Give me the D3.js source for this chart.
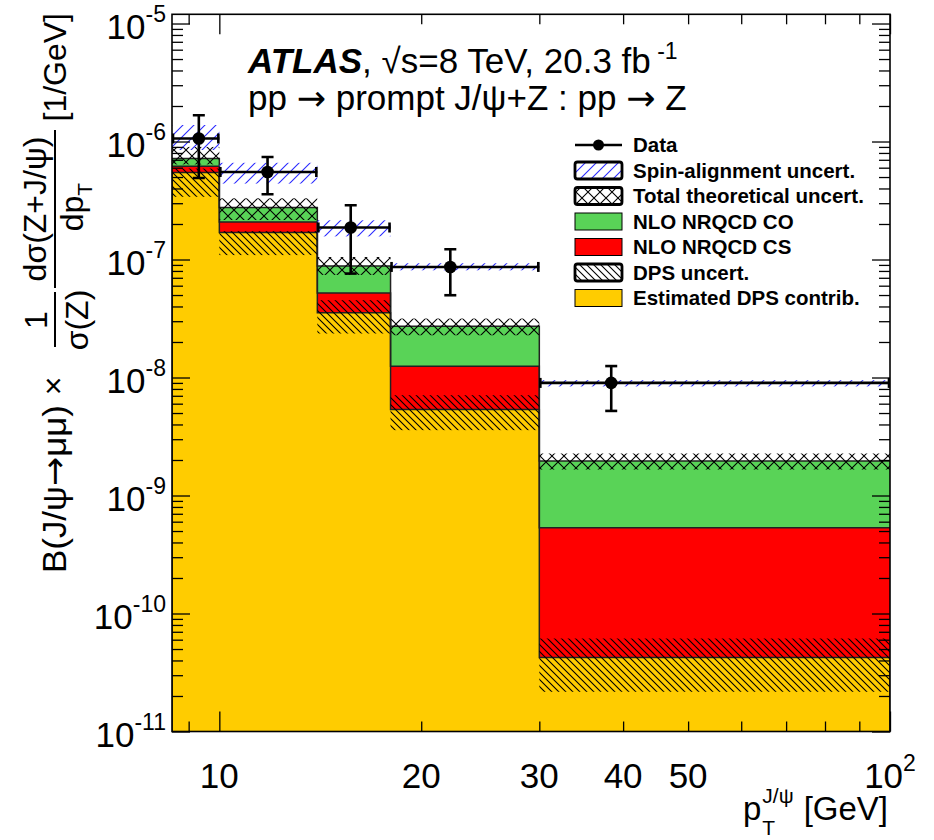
<!DOCTYPE html>
<html><head><meta charset="utf-8">
<script src="https://cdn.jsdelivr.net/npm/d3@7/dist/d3.min.js"></script>
<style>
body{margin:0;background:#fff}
text{font-family:"Liberation Sans",Arial,Helvetica,sans-serif;fill:#000}
.ar{font-family:"DejaVu Sans",sans-serif}
</style>
</head><body>
<svg id="chart" width="934" height="840"></svg>
<script>
// ---------------- data ----------------
const binEdges   = [8.5, 10, 14, 18, 30, 100];
const dpsContrib = [5.46e-7, 1.69e-7, 3.53e-8, 5.36e-9, 4.24e-11];
const csContrib  = [7.2e-8, 3.9e-8, 1.68e-8, 7.1e-9, 4.9e-10];
const coContrib  = [1.0e-7, 6.8e-8, 3.6e-8, 1.47e-8, 1.43e-9];
const dpsUncLow  = [3.4e-7, 1.09e-7, 2.36e-8, 3.58e-9, 2.17e-11];
const dpsUncHigh = [5.9e-7, 1.74e-7, 4.52e-8, 7.08e-9, 6.14e-11];
const theoryLow  = [6.4e-7, 2.16e-7, 7.4e-8, 2.28e-8, 1.66e-9];
const theoryHigh = [9.0e-7, 3.30e-7, 1.05e-7, 3.16e-8, 2.27e-9];
const spinLow    = [8.47e-7, 4.4e-7, 1.57e-7, 8.1e-8, 8.4e-9];
const spinHigh   = [1.38e-6, 6.6e-7, 2.15e-7, 9.3e-8, 9.5e-9];
const dataX      = [9.32, 11.8, 15.7, 22.1, 38.4];
const dataY      = [1.06e-6, 5.52e-7, 1.87e-7, 8.65e-8, 9.0e-9];
const dataHigh   = [1.67e-6, 7.4e-7, 2.88e-7, 1.22e-7, 1.25e-8];
const dataLowV   = [4.9e-7, 3.57e-7, 7.6e-8, 4.98e-8, 5.21e-9];
const yMajorExp  = [-11, -10, -9, -8, -7, -6, -5];
const xLabelVals = [10, 20, 30, 40, 50];
const legendLabels = ["Data", "Spin-alignment uncert.", "Total theoretical uncert.",
  "NLO NRQCD CO", "NLO NRQCD CS", "DPS uncert.", "Estimated DPS contrib."];

// ---------------- layout ----------------
const L = 172, R = 890, T = 14.3, B = 731.5;
const svg = d3.select("#chart");
const x = d3.scaleLog().domain([8.5, 100]).range([L, R]);
const y = d3.scaleLog().domain([1e-11, 1.197e-5]).range([B, T]);
const cYellow = "#ffcc00", cRed = "#ff0000", cGreen = "#59d357", cBlue = "#2a2aff";

const defs = svg.append("defs");
defs.append("clipPath").attr("id", "plotclip").append("rect")
  .attr("x", L).attr("y", T).attr("width", R - L).attr("height", B - T);
function pat(id, size, d, color, w) {
  defs.append("pattern").attr("id", id).attr("patternUnits", "userSpaceOnUse")
    .attr("width", size).attr("height", size)
    .append("path").attr("d", d).attr("stroke", color).attr("stroke-width", w).attr("fill", "none");
}
pat("hDps", 7, "M0,0L7,7M-1,6L1,8M6,-1L8,1", "#000", 1.1);
pat("hCross", 12, "M0,0L12,12M12,0L0,12", "#000", 1.1);
pat("hSpin", 11, "M0,11L11,0M-1,1L1,-1M10,12L12,10", cBlue, 1.1);

// stacked cumulative
const cumDps = dpsContrib.slice();
const cumCs = dpsContrib.map((d, i) => d + csContrib[i]);
const cumCo = cumCs.map((d, i) => d + coContrib[i]);
const bins = d3.range(binEdges.length - 1);

const plot = svg.append("g").attr("clip-path", "url(#plotclip)");
function layerPath(lo, hi) {
  let p = `M${x(binEdges[0])},${y(hi[0])}`;
  bins.forEach(i => { if (i > 0) p += `V${y(hi[i])}`; p += `H${x(binEdges[i + 1])}`; });
  for (let i = bins.length - 1; i >= 0; i--) p += `V${lo ? y(lo[i]) : B}H${x(binEdges[i])}`;
  return p + "Z";
}
plot.append("path").attr("d", layerPath(null, cumDps)).attr("fill", cYellow);
plot.append("path").attr("d", layerPath(cumDps, cumCs)).attr("fill", cRed);
plot.append("path").attr("d", layerPath(cumCs, cumCo)).attr("fill", cGreen);

function stepPath(vals, toBottom) {
  let p = toBottom ? `M${x(binEdges[0])},${B}V${y(vals[0])}` : `M${x(binEdges[0])},${y(vals[0])}`;
  bins.forEach(i => { if (i > 0) p += `V${y(vals[i])}`; p += `H${x(binEdges[i + 1])}`; });
  if (toBottom) p += `V${B}`;
  return p;
}
[[cumDps, true], [cumCs, false], [cumCo, false]].forEach(([v, tb]) =>
  plot.append("path").attr("d", stepPath(v, tb)).attr("fill", "none").attr("stroke", "#222").attr("stroke-width", 1.5));

function bandBins(lo, hi, fill) {
  plot.append("g").selectAll("rect").data(bins).join("rect")
    .attr("x", i => x(binEdges[i])).attr("width", i => x(binEdges[i + 1]) - x(binEdges[i]))
    .attr("y", i => y(hi[i])).attr("height", i => y(lo[i]) - y(hi[i]))
    .attr("fill", fill);
}
bandBins(dpsUncLow, dpsUncHigh, "url(#hDps)");
bandBins(theoryLow, theoryHigh, "url(#hCross)");
bandBins(spinLow, spinHigh, "url(#hSpin)");

// data points
const dg = plot.append("g").attr("stroke", "#000").attr("stroke-width", 2.6);
bins.forEach(i => {
  const cx = x(dataX[i]), cy = y(dataY[i]);
  const x0 = x(binEdges[i]), x1 = x(binEdges[i + 1]);
  const yh = y(dataHigh[i]), yl = y(dataLowV[i]);
  dg.append("line").attr("x1", x0).attr("x2", x1).attr("y1", cy).attr("y2", cy);
  dg.append("line").attr("x1", x0 + 1).attr("x2", x0 + 1).attr("y1", cy - 5).attr("y2", cy + 5);
  dg.append("line").attr("x1", x1 - 1).attr("x2", x1 - 1).attr("y1", cy - 5).attr("y2", cy + 5);
  dg.append("line").attr("x1", cx).attr("x2", cx).attr("y1", yh).attr("y2", yl);
  dg.append("line").attr("x1", cx - 6).attr("x2", cx + 6).attr("y1", yh).attr("y2", yh);
  dg.append("line").attr("x1", cx - 6).attr("x2", cx + 6).attr("y1", yl).attr("y2", yl);
  dg.append("circle").attr("cx", cx).attr("cy", cy).attr("r", 6.3).attr("fill", "#000").attr("stroke", "none");
});

// ---------------- axes (ticks inside) ----------------
const yMajor = yMajorExp.map(e => Math.pow(10, e));
const yMinor = [];
yMajorExp.forEach(e => d3.range(2, 10).forEach(m => { const v = m * Math.pow(10, e); if (v <= 1.197e-5) yMinor.push(v); }));
const xMajor = [10, 100];
const xMinor = [9, 20, 30, 40, 50, 60, 70, 80, 90];

function styleAxis(g) { g.select(".domain").remove(); g.selectAll("text").remove(); g.selectAll("line").attr("stroke", "#000").attr("stroke-width", 1.3); }
svg.append("g").attr("transform", `translate(${L},0)`).call(d3.axisLeft(y).tickValues(yMajor).tickSize(-18)).call(styleAxis);
svg.append("g").attr("transform", `translate(${L},0)`).call(d3.axisLeft(y).tickValues(yMinor).tickSize(-11)).call(styleAxis);
svg.append("g").attr("transform", `translate(${R},0)`).call(d3.axisRight(y).tickValues(yMajor).tickSize(-18)).call(styleAxis);
svg.append("g").attr("transform", `translate(${R},0)`).call(d3.axisRight(y).tickValues(yMinor).tickSize(-11)).call(styleAxis);
svg.append("g").attr("transform", `translate(0,${B})`).call(d3.axisBottom(x).tickValues(xMajor).tickSize(-20)).call(styleAxis);
svg.append("g").attr("transform", `translate(0,${B})`).call(d3.axisBottom(x).tickValues(xMinor).tickSize(-10)).call(styleAxis);
svg.append("g").attr("transform", `translate(0,${T})`).call(d3.axisTop(x).tickValues(xMajor).tickSize(-20)).call(styleAxis);
svg.append("g").attr("transform", `translate(0,${T})`).call(d3.axisTop(x).tickValues(xMinor).tickSize(-10)).call(styleAxis);
svg.append("rect").attr("x", L).attr("y", T).attr("width", R - L).attr("height", B - T)
  .attr("fill", "none").attr("stroke", "#000").attr("stroke-width", 1.6);

// y tick labels
yMajorExp.forEach(e => {
  const t = svg.append("text").attr("x", 166).attr("y", y(Math.pow(10, e)) + 15.5)
    .attr("text-anchor", "end").attr("font-size", 35);
  t.append("tspan").text("10");
  t.append("tspan").attr("dy", -17).attr("font-size", 23).text(String(e));
});
// x tick labels
xLabelVals.forEach(v => {
  svg.append("text").attr("x", x(v)).attr("y", 788).attr("text-anchor", "middle")
    .attr("font-size", 35).text(String(v));
});
{
  const t = svg.append("text").attr("x", x(100)).attr("y", 788).attr("text-anchor", "middle").attr("font-size", 35);
  t.append("tspan").text("10");
  t.append("tspan").attr("dy", -17).attr("font-size", 23).text("2");
}

// x title
{
  const g = svg.append("g");
  const p = g.append("text").attr("x", 0).attr("y", 820).attr("font-size", 33).text("p");
  const pw = p.node().getComputedTextLength();
  const sup = g.append("text").attr("x", pw + 1).attr("y", 803).attr("font-size", 21).text("J/ψ");
  g.append("text").attr("x", pw + 1).attr("y", 835).attr("font-size", 21).text("T");
  const sw = sup.node().getComputedTextLength();
  const gev = g.append("text").attr("x", pw + sw + 11).attr("y", 820).attr("font-size", 33).text("[GeV]");
  const total = pw + sw + 11 + gev.node().getComputedTextLength();
  g.attr("transform", `translate(${888 - total},0)`);
}

// y title (rotated)
{
  const g = svg.append("g").attr("transform", "translate(66,573) rotate(-90)");
  const fs = 32;
  const b = g.append("text").attr("x", 0).attr("y", 0).attr("font-size", 34)
    .attr("textLength", 168).attr("lengthAdjust", "spacingAndGlyphs");
  b.append("tspan").text("B(J/ψ");
  b.append("tspan").attr("class", "ar").text("→");
  b.append("tspan").text("μμ)");
  g.append("text").attr("x", 187).attr("y", -2).attr("text-anchor", "middle").attr("font-size", fs).text("×");
  g.append("text").attr("x", 253).attr("y", -19).attr("text-anchor", "middle").attr("font-size", fs).text("1");
  g.append("line").attr("x1", 226).attr("x2", 281).attr("y1", -11).attr("y2", -11).attr("stroke", "#000").attr("stroke-width", 2);
  g.append("text").attr("x", 253).attr("y", 22).attr("text-anchor", "middle").attr("font-size", fs).text("σ(Z)");
  g.append("line").attr("x1", 285).attr("x2", 443).attr("y1", -11).attr("y2", -11).attr("stroke", "#000").attr("stroke-width", 2);
  g.append("text").attr("x", 364).attr("y", -20).attr("text-anchor", "middle").attr("font-size", fs).text("dσ(Z+J/ψ)");
  const dp = g.append("text").attr("x", 366).attr("y", 17).attr("text-anchor", "middle").attr("font-size", fs);
  dp.append("tspan").text("dp");
  dp.append("tspan").attr("dy", 9).attr("font-size", 21).text("T");
  g.append("text").attr("x", 560).attr("y", 0).attr("text-anchor", "end").attr("font-size", fs).text("[1/GeV]");
}

// header text
{
  const t = svg.append("text").attr("x", 248).attr("y", 73).attr("font-size", 35);
  t.append("tspan").attr("font-weight", "bold").attr("font-style", "italic").text("ATLAS");
  t.append("tspan").text(", √s=8 TeV, 20.3 fb");
  t.append("tspan").attr("dy", -14).attr("font-size", 23).text(" -1");
  const t2 = svg.append("text").attr("x", 248).attr("y", 110).attr("font-size", 35);
  t2.append("tspan").text("pp ");
  t2.append("tspan").attr("class", "ar").text("→");
  t2.append("tspan").text(" prompt J/ψ+Z : pp ");
  t2.append("tspan").attr("class", "ar").text("→");
  t2.append("tspan").text(" Z");
}

// legend
{
  const lx0 = 575, lx1 = 622, tx = 633, y0 = 145, dy = 25.5, bh = 17;
  const lg = svg.append("g");
  const fills = [null, "url(#hSpin)", "url(#hCross)", cGreen, cRed, "url(#hDps)", cYellow];
  legendLabels.forEach((lab, i) => {
    const cy = y0 + i * dy;
    lg.append("text").attr("x", tx).attr("y", cy + 7).attr("font-size", 20.5).attr("font-weight", "bold").text(lab);
    if (i === 0) {
      lg.append("line").attr("x1", lx0).attr("x2", lx1).attr("y1", cy).attr("y2", cy).attr("stroke", "#000").attr("stroke-width", 2.4);
      lg.append("circle").attr("cx", (lx0 + lx1) / 2).attr("cy", cy).attr("r", 5.5).attr("fill", "#000");
      return;
    }
    const hatched = (i === 1 || i === 2 || i === 5);
    if (hatched) lg.append("rect").attr("x", lx0).attr("y", cy - bh / 2).attr("width", lx1 - lx0).attr("height", bh).attr("fill", "#fff");
    lg.append("rect").attr("x", lx0).attr("y", cy - bh / 2).attr("width", lx1 - lx0).attr("height", bh)
      .attr("rx", hatched ? 2.5 : 0)
      .attr("fill", fills[i]).attr("stroke", "#000").attr("stroke-width", hatched ? 2.8 : 1);
  });
}
</script>
</body></html>
